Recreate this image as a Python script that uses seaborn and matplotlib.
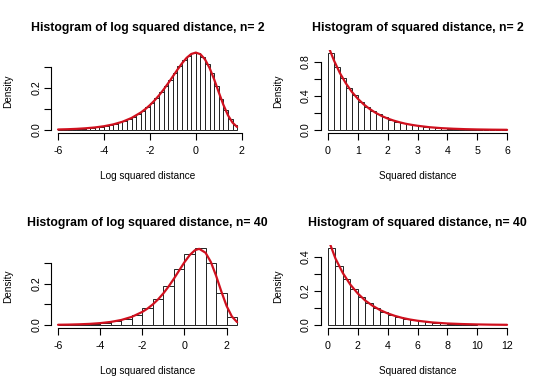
import numpy as np
import pandas as pd
import seaborn as sns
import matplotlib.pyplot as plt

# ---- data ----
# n = 2, log squared distance: bins of 0.2 from -6 to 1.8
log2_start, log2_width = -6.0, 0.2
log2_dens = [0.003, 0.003, 0.004, 0.005, 0.006, 0.007, 0.009, 0.011, 0.013, 0.016,
             0.020, 0.024, 0.029, 0.036, 0.043, 0.052, 0.063, 0.076, 0.091, 0.108,
             0.129, 0.152, 0.179, 0.208, 0.239, 0.271, 0.302, 0.331, 0.353, 0.366,
             0.365, 0.349, 0.316, 0.269, 0.210, 0.149, 0.094, 0.051, 0.024]
log2_curve_x = [-6.0, -5.6, -5.2, -4.8, -4.4, -4.0, -3.6, -3.2, -2.8, -2.4, -2.2, -2.0,
                -1.8, -1.6, -1.4, -1.2, -1.0, -0.8, -0.6, -0.4, -0.2, 0.0, 0.2, 0.4,
                0.6, 0.8, 1.0, 1.2, 1.4, 1.6, 1.8]
log2_curve_y = [0.0025, 0.0037, 0.0055, 0.0082, 0.0121, 0.0180, 0.0266, 0.0391, 0.0572,
                0.0829, 0.0992, 0.1182, 0.1401, 0.1650, 0.1927, 0.2229, 0.2547, 0.2867,
                0.3170, 0.3429, 0.3611, 0.3679, 0.3601, 0.3356, 0.2947, 0.2403, 0.1794,
                0.1200, 0.0703, 0.0350, 0.0143]

# n = 2, squared distance: bins of 0.2 from 0 to 6
sq2_start, sq2_width = 0.0, 0.2
sq2_dens = [0.906, 0.742, 0.608, 0.497, 0.407, 0.333, 0.273, 0.224, 0.183, 0.150,
            0.123, 0.100, 0.082, 0.067, 0.055, 0.045, 0.037, 0.030, 0.025, 0.020,
            0.017, 0.014, 0.011, 0.009, 0.008, 0.006, 0.005, 0.004, 0.003, 0.003]
sq2_curve_x = [0.05, 0.2, 0.4, 0.6, 0.8, 1.0, 1.2, 1.4, 1.6, 1.8, 2.0, 2.2, 2.4, 2.6,
               2.8, 3.0, 3.4, 3.8, 4.2, 4.6, 5.0, 5.5, 6.0]
sq2_curve_y = [0.951, 0.819, 0.670, 0.549, 0.449, 0.368, 0.301, 0.247, 0.202, 0.165,
               0.135, 0.111, 0.091, 0.074, 0.061, 0.050, 0.033, 0.022, 0.015, 0.010,
               0.0067, 0.0041, 0.0025]

# n = 40, log squared distance: bins of 0.5 from -6 to 2.5
log40_start, log40_width = -6.0, 0.5
log40_dens = [0.002, 0.003, 0.004, 0.007, 0.012, 0.019, 0.031, 0.050, 0.080, 0.125,
              0.190, 0.270, 0.345, 0.372, 0.300, 0.157, 0.038]
log40_curve_x = [-6.0, -5.5, -5.0, -4.5, -4.0, -3.5, -3.0, -2.5, -2.0, -1.75, -1.5,
                 -1.25, -1.0, -0.75, -0.5, -0.25, 0.0, 0.25, 0.5, 0.7, 1.0, 1.25, 1.5,
                 1.75, 2.0, 2.25, 2.5]
log40_curve_y = [0.0012, 0.0020, 0.0034, 0.0055, 0.0091, 0.0149, 0.0243, 0.0394, 0.0633,
                 0.0797, 0.0998, 0.1241, 0.1530, 0.1865, 0.2239, 0.2638, 0.3033, 0.3379,
                 0.3615, 0.3679, 0.3491, 0.3047, 0.2383, 0.1619, 0.0919, 0.0413, 0.0138]

# n = 40, squared distance: bins of 0.5 from 0 to 10
sq40_start, sq40_width = 0.0, 0.5
sq40_dens = [0.450, 0.345, 0.268, 0.209, 0.163, 0.127, 0.099, 0.077, 0.060, 0.047,
             0.036, 0.028, 0.022, 0.017, 0.013, 0.010, 0.008, 0.006, 0.005, 0.004]
sq40_curve_x = [0.05, 0.5, 1.0, 1.5, 2.0, 2.5, 3.0, 3.5, 4.0, 4.5, 5.0, 5.5, 6.0, 7.0,
                8.0, 9.0, 10.0, 11.0, 12.0]
sq40_curve_y = [0.494, 0.389, 0.303, 0.236, 0.184, 0.143, 0.112, 0.087, 0.068, 0.053,
                0.041, 0.032, 0.025, 0.015, 0.009, 0.0056, 0.0034, 0.0020, 0.0012]

sns.set_style("white")
plt.rcParams['font.family'] = ['Liberation Sans', 'DejaVu Sans']
plt.rcParams['text.color'] = 'black'

W, H = 540, 391
fig = plt.figure(figsize=(W / 100, H / 100), dpi=100)

# plot regions in pixels (left, right) / (top, bottom)
cols = [(50.9, 244.3), (320.8, 514.2)]
rows = [(49.9, 133.1), (244.9, 328.1)]

panels = [
    dict(title="Histogram of log squared distance, n= 2", xlabel="Log squared distance",
         start=log2_start, width=log2_width, dens=log2_dens,
         cx=log2_curve_x, cy=log2_curve_y, xrange=(-6, 1.8),
         xticks=[-6, -4, -2, 0, 2], yticks=[0, 0.1, 0.2, 0.3],
         ylabels=["0.0", "", "0.2", ""]),
    dict(title="Histogram of squared distance, n= 2", xlabel="Squared distance",
         start=sq2_start, width=sq2_width, dens=sq2_dens,
         cx=sq2_curve_x, cy=sq2_curve_y, xrange=(0, 6),
         xticks=[0, 1, 2, 3, 4, 5, 6], yticks=[0, 0.2, 0.4, 0.6, 0.8],
         ylabels=["0.0", "", "0.4", "", "0.8"]),
    dict(title="Histogram of log squared distance, n= 40", xlabel="Log squared distance",
         start=log40_start, width=log40_width, dens=log40_dens,
         cx=log40_curve_x, cy=log40_curve_y, xrange=(-6, 2.5),
         xticks=[-6, -4, -2, 0, 2], yticks=[0, 0.1, 0.2, 0.3],
         ylabels=["0.0", "", "0.2", ""]),
    dict(title="Histogram of squared distance, n= 40", xlabel="Squared distance",
         start=sq40_start, width=sq40_width, dens=sq40_dens,
         cx=sq40_curve_x, cy=sq40_curve_y, xrange=(0, 12),
         xticks=[0, 2, 4, 6, 8, 10, 12], yticks=[0, 0.1, 0.2, 0.3, 0.4],
         ylabels=["0.0", "", "0.2", "", "0.4"]),
]

red = "#d0101e"
for i, p in enumerate(panels):
    r, c = divmod(i, 2)
    (left, right), (top, bottom) = cols[c], rows[r]
    ax = fig.add_axes([left / W, 1 - bottom / H, (right - left) / W, (bottom - top) / H])

    n = len(p["dens"])
    edges = p["start"] + p["width"] * np.arange(n + 1)
    bars = pd.DataFrame({"mid": edges[:-1] + p["width"] / 2, "density": p["dens"]})
    sns.histplot(data=bars, x="mid", weights="density", bins=list(edges), stat="count",
                 color="white", edgecolor="#222222", linewidth=0.7, alpha=1, ax=ax)
    curve = pd.DataFrame({"x": p["cx"], "y": p["cy"]})
    sns.lineplot(data=curve, x="x", y="y", color=red, linewidth=1.6, ax=ax)

    lo, hi = p["xrange"]
    ax.set_xlim(lo - 0.04 * (hi - lo), hi + 0.04 * (hi - lo))
    ymax = max(p["dens"])
    ax.set_ylim(-0.04 * ymax, 1.04 * ymax)

    ax.set_xticks(p["xticks"])
    ax.set_xticklabels([str(t) for t in p["xticks"]])
    ax.set_yticks(p["yticks"])
    ax.set_yticklabels(p["ylabels"], rotation=90, va="center")
    ax.tick_params(bottom=True, left=True, direction="out", length=4.8, width=0.8,
                   colors="black", labelsize=7.7)
    ax.tick_params(axis="x", pad=4.8)
    ax.tick_params(axis="y", pad=2.2)
    ax.set_xlabel("")
    ax.set_ylabel("")
    for s in ["top", "right"]:
        ax.spines[s].set_visible(False)
    ax.spines["left"].set_bounds(p["yticks"][0], p["yticks"][-1])
    ax.spines["bottom"].set_bounds(p["xticks"][0], p["xticks"][-1])
    for s in ["left", "bottom"]:
        ax.spines[s].set_linewidth(0.8)
        ax.spines[s].set_color("black")
    ax.patch.set_alpha(0)

    cxp = (left + right) / 2
    fig.text(cxp / W, 1 - (30.7 + 195 * r) / H, p["title"], ha="center", va="baseline",
             fontsize=8.8, fontweight="bold")
    fig.text(cxp / W, 1 - (179.4 + 195 * r) / H, p["xlabel"], ha="center",
             va="baseline", fontsize=7.2)
    fig.text((left - 42.4) / W, 1 - ((top + bottom) / 2) / H, "Density", rotation=90,
             ha="center", va="center", fontsize=7.2)

fig.savefig("out.png", dpi=100)
